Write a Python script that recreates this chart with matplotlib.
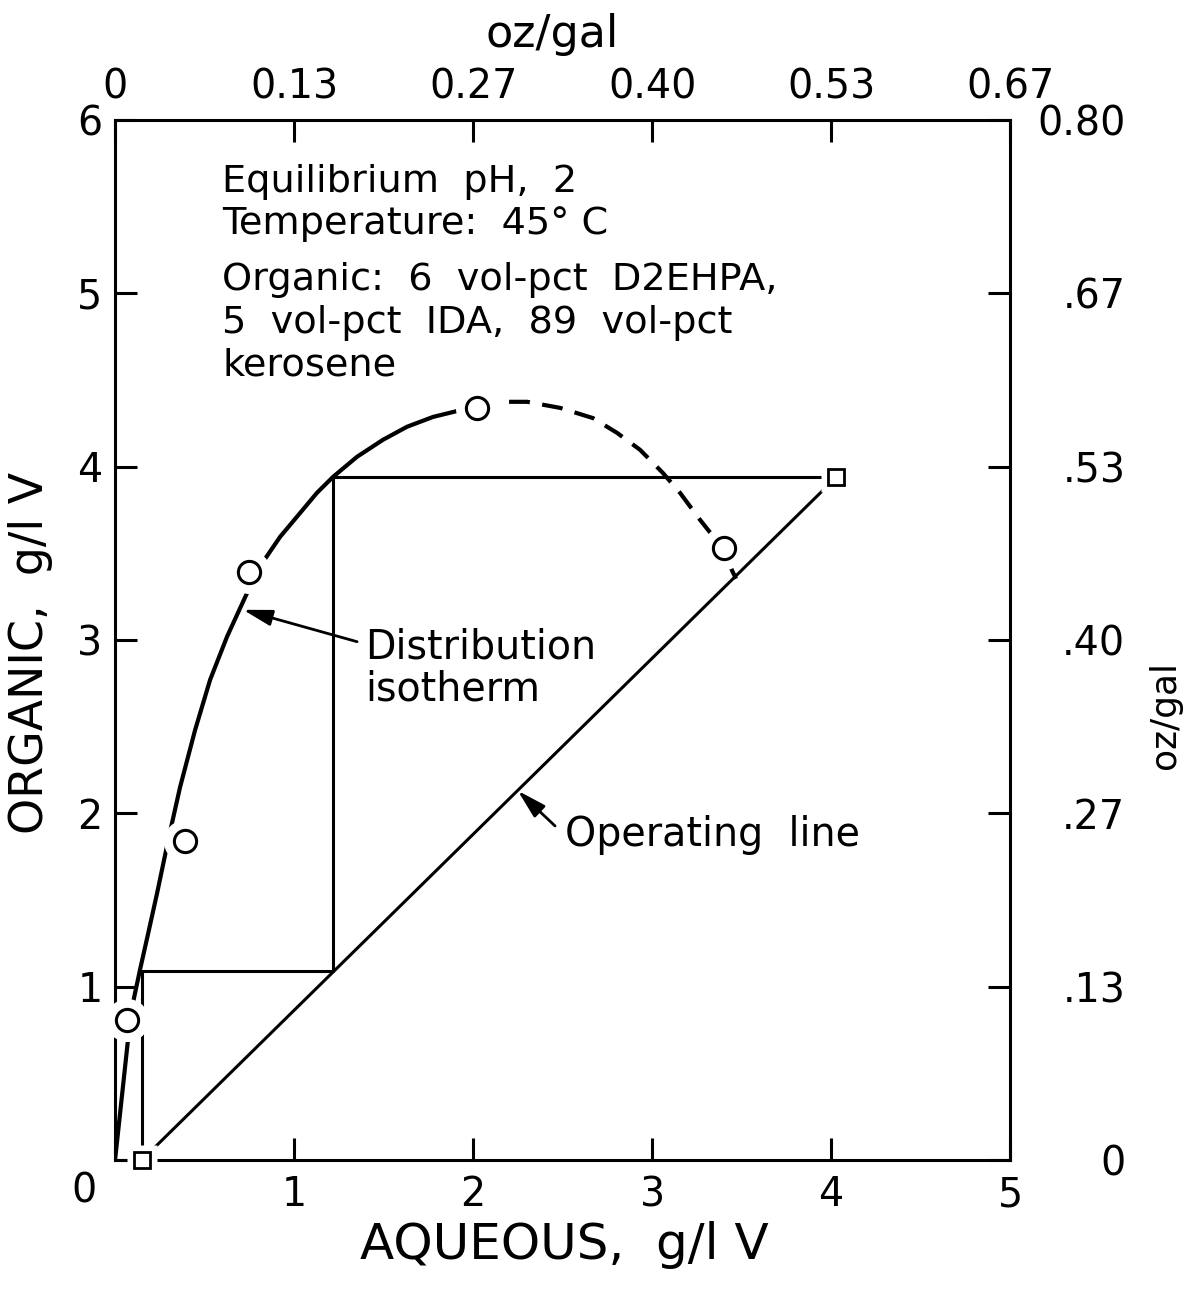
"""Distribution isotherm and operating line for vanadium extraction."""

import matplotlib

matplotlib.use("Agg")
import matplotlib.pyplot as plt

plt.rcParams["font.family"] = ["DejaVu Sans"]

# isotherm (g/l V)
iso_solid_x = [0.0, 0.073, 0.105, 0.14, 0.19, 0.235, 0.30, 0.363, 0.447, 0.531,
               0.626, 0.737, 0.749, 0.827, 0.922, 1.034, 1.128, 1.218, 1.352,
               1.497, 1.631, 1.777, 1.939, 2.02]
iso_solid_y = [0.0, 0.70, 0.93, 1.10, 1.33, 1.54, 1.86, 2.15, 2.48, 2.77,
               3.02, 3.27, 3.39, 3.451, 3.595, 3.733, 3.849, 3.941, 4.057,
               4.155, 4.230, 4.287, 4.328, 4.34]
iso_dash_x = [2.02, 2.123, 2.302, 2.486, 2.67, 2.804, 2.933, 3.06, 3.156, 3.268, 3.335, 3.40]
iso_dash_y = [4.34, 4.374, 4.374, 4.339, 4.28, 4.195, 4.097, 3.964, 3.849, 3.693, 3.606, 3.53]
iso_tail_x = [3.40, 3.447, 3.464]
iso_tail_y = [3.53, 3.40, 3.364]

# measured points
circle_x = [0.067, 0.39, 0.749, 2.02, 3.40]
circle_y = [0.81, 1.84, 3.39, 4.34, 3.53]

# operating line end points
square_x = [0.15, 4.03]
square_y = [0.0, 3.94]

# McCabe-Thiele steps
stair_x = [4.03, 1.22, 1.22, 0.15, 0.15]
stair_y = [3.94, 3.94, 1.09, 1.09, 0.0]

x_ticks = [0, 1, 2, 3, 4, 5]
x_labels = ["", "1", "2", "3", "4", "5"]
y_ticks = [0, 1, 2, 3, 4, 5, 6]
y_labels = ["", "1", "2", "3", "4", "5", "6"]
top_labels = ["0", "0.13", "0.27", "0.40", "0.53", "0.67"]
right_labels = ["0", ".13", ".27", ".40", ".53", ".67", "0.80"]

FS = 28.5
LW = 2.2

fig = plt.figure(figsize=(11.91, 12.9), dpi=100)
ax = fig.add_axes([0.0966, 0.1008, 0.7515, 0.8062])
ax.set_xlim(0, 5)
ax.set_ylim(0, 6)

ax.plot(iso_solid_x, iso_solid_y, color="black", lw=3, solid_joinstyle="round", zorder=2)
ax.plot(iso_dash_x, iso_dash_y, color="black", lw=3, dashes=(5, 3), zorder=2)
ax.plot(iso_tail_x, iso_tail_y, color="black", lw=3, zorder=2)
ax.plot(square_x, square_y, color="black", lw=LW, zorder=2)
ax.plot(stair_x, stair_y, color="black", lw=LW, zorder=2)

# white halos leave the small gaps round each symbol
ax.plot(circle_x, circle_y, "o", ms=31, mfc="white", mec="none", zorder=2.6, clip_on=False)
ax.plot(square_x, square_y, "s", ms=22, mfc="white", mec="none", zorder=2.6, clip_on=False)
ax.plot(circle_x, circle_y, "o", ms=16, mfc="white", mec="black", mew=2.2, zorder=3, clip_on=False)
ax.plot(square_x, square_y, "s", ms=11, mfc="white", mec="black", mew=2.0, zorder=3, clip_on=False)

for side in ["left", "right", "top", "bottom"]:
    ax.spines[side].set_linewidth(LW)

ax.set_xticks(x_ticks)
ax.set_xticklabels(x_labels)
ax.set_yticks(y_ticks)
ax.set_yticklabels(y_labels)
ax.tick_params(direction="in", length=16, width=LW, labelsize=FS, pad=11)
ax.tick_params(axis="y", pad=9)
ax.annotate("0", xy=(0, 0), xytext=(-22, -23), textcoords="offset points",
            ha="center", va="center", fontsize=FS)

ax.set_xlabel("AQUEOUS,  g/l V", fontsize=36)
ax.xaxis.set_label_coords(0.502, -0.082)
ax.xaxis.label.set_va("center")
ax.set_ylabel("ORGANIC,  g/l V", fontsize=33)
ax.yaxis.set_label_coords(-0.095, 0.4875)
ax.yaxis.label.set_va("center")

# right axis, oz/gal
ax2 = ax.twinx()
ax2.set_ylim(0, 6)
ax2.set_yticks(y_ticks)
ax2.set_yticklabels(right_labels)
ax2.tick_params(direction="in", length=16, width=LW, labelsize=FS, pad=83)
for lab in ax2.get_yticklabels():
    lab.set_horizontalalignment("right")
ax2.set_ylabel("oz/gal", fontsize=26, rotation=90)
ax2.yaxis.set_label_coords(1.173, 0.428)
ax2.yaxis.label.set_va("center")

# top axis, oz/gal
ax3 = ax.twiny()
ax3.set_xlim(0, 5)
ax3.set_xticks(x_ticks)
ax3.set_xticklabels(top_labels)
ax3.tick_params(direction="in", length=16, width=LW, labelsize=FS, pad=9)
ax3.set_xlabel("oz/gal", fontsize=32)
ax3.xaxis.set_label_coords(0.488, 1.082)
ax3.xaxis.label.set_va("center")

for twin in (ax2, ax3):
    for side in ["left", "right", "top", "bottom"]:
        twin.spines[side].set_visible(False)

notes = [
    ("Equilibrium  pH,  2", 5.586),
    ("Temperature:  45° C", 5.343),
    ("Organic:  6  vol-pct  D2EHPA,", 5.02),
    ("5  vol-pct  IDA,  89  vol-pct", 4.772),
    ("kerosene", 4.524),
]
for line, ypos in notes:
    ax.text(0.598, ypos, line, fontsize=27.5, va="baseline", ha="left")

arrow = dict(arrowstyle="-|>,head_length=0.8,head_width=0.22", color="black",
             lw=2, shrinkA=0, shrinkB=0, mutation_scale=22)
ax.annotate("", xy=(0.715, 3.174), xytext=(1.352, 2.99), arrowprops=arrow)
ax.text(1.397, 2.954, "Distribution", fontsize=FS, va="center", ha="left")
ax.text(1.397, 2.712, "isotherm", fontsize=FS, va="center", ha="left")

ax.annotate("", xy=(2.25, 2.13), xytext=(2.458, 1.927), arrowprops=arrow)
ax.text(2.514, 1.875, "Operating  line", fontsize=FS, va="center", ha="left")

fig.savefig("out.png", dpi=100)
plt.close(fig)
